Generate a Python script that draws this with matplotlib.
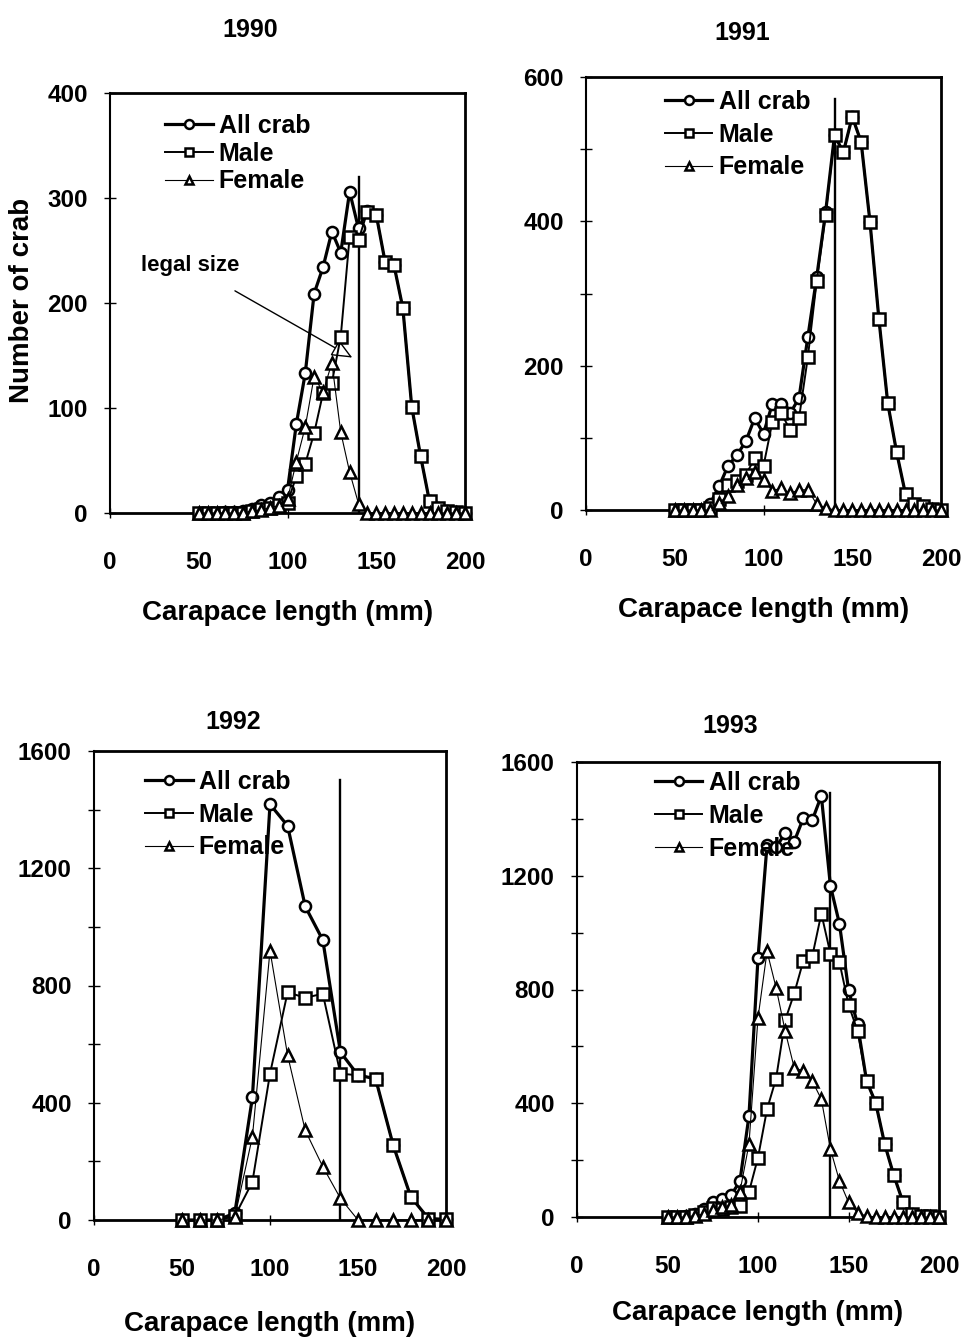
import matplotlib
matplotlib.use("Agg")
import matplotlib.pyplot as plt
from matplotlib.ticker import MultipleLocator

plt.rcParams['font.family'] = ['Liberation Sans', 'DejaVu Sans']
plt.rcParams['font.weight'] = 'bold'
plt.rcParams['axes.labelweight'] = 'bold'

# carapace length classes (mm)
sizes_5mm = list(range(50, 205, 5))
sizes_10mm = list(range(50, 205, 10))

# 1990
all_1990 = [0, 0, 0, 1, 1, 2, 4, 8, 10, 15, 22, 85, 133, 209, 234, 268, 248, 306, 271, 288,
            284, 239, 236, 195, 101, 54, 11, 5, 2, 1, 0]
male_1990 = [0, 0, 0, 0, 0, 0, 2, 4, 5, 8, 10, 35, 47, 76, 114, 124, 168, 263, 260, 287,
             284, 239, 236, 195, 101, 54, 11, 5, 2, 1, 0]
female_1990 = [0, 0, 0, 0, 0, 0, 2, 3, 5, 7, 13, 49, 82, 130, 115, 143, 77, 39, 9, 0,
               0, 0, 0, 0, 0, 0, 0, 0, 0, 0, 0]

# 1991
all_1991 = [0, 0, 0, 0, 9, 33, 61, 76, 95, 127, 106, 147, 147, 134, 155, 240, 323, 413, 519, 496,
            545, 510, 399, 265, 148, 80, 22, 8, 5, 2, 0]
male_1991 = [0, 0, 0, 0, 3, 15, 35, 40, 48, 72, 61, 122, 134, 111, 127, 212, 318, 409, 519, 496,
             545, 510, 399, 265, 148, 80, 22, 8, 5, 2, 0]
female_1991 = [0, 0, 0, 0, 0, 10, 20, 35, 45, 53, 42, 27, 30, 23, 28, 28, 8, 3, 0, 0,
               0, 0, 0, 0, 0, 0, 0, 0, 0, 0, 0]

# 1992 (10 mm classes)
all_1992 = [0, 0, 0, 23, 418, 1418, 1345, 1070, 955, 573, 494, 482, 255, 79, 5, 2]
male_1992 = [0, 0, 0, 13, 130, 499, 777, 758, 772, 499, 494, 482, 255, 79, 5, 2]
female_1992 = [0, 0, 0, 10, 284, 919, 562, 306, 182, 74, 0, 0, 0, 0, 0, 0]

# 1993
all_1993 = [0, 0, 2, 12, 29, 53, 64, 76, 125, 355, 911, 1309, 1300, 1350, 1320, 1402, 1396, 1481,
            1165, 1031, 800, 677, 478, 402, 256, 147, 54, 10, 5, 3, 0]
male_1993 = [0, 0, 0, 7, 19, 30, 29, 35, 37, 88, 209, 379, 487, 692, 786, 900, 917, 1067,
             926, 896, 747, 654, 478, 402, 256, 147, 54, 10, 5, 3, 0]
female_1993 = [0, 0, 0, 5, 10, 23, 35, 41, 88, 256, 700, 934, 806, 654, 525, 513, 478, 414,
               239, 127, 52, 15, 3, 0, 0, 0, 0, 0, 0, 0, 0]

legal_size = 140

W, H = 968, 1337
fig = plt.figure(figsize=(W / 100, H / 100), dpi=100)


def add_ax(left, right, top, bottom):
    return fig.add_axes([left / W, 1 - bottom / H, (right - left) / W, (bottom - top) / H])


panels = [
    # year, x, all, male, female, ymax, major, minor, legal top, axes box px, legend anchor, title px, xlabel y
    ("1990", sizes_5mm, all_1990, male_1990, female_1990, 400, 100, 100, 320,
     (110, 465, 93, 513), (0.155, 0.95), (250, 30), 613),
    ("1991", sizes_5mm, all_1991, male_1991, female_1991, 600, 200, 100, 570,
     (586, 941, 77, 510), (0.222, 0.97), (742, 33), 610),
    ("1992", sizes_10mm, all_1992, male_1992, female_1992, 1600, 400, 200, 1500,
     (94, 446, 751, 1220), (0.145, 0.96), (233, 722), 1324),
    ("1993", sizes_5mm, all_1993, male_1993, female_1993, 1600, 400, 200, 1490,
     (577, 939, 762, 1217), (0.215, 0.98), (730, 726), 1313),
]

mk = dict(markerfacecolor="white", markeredgecolor="black", markersize=8,
          markeredgewidth=1.8, clip_on=False)

for (year, x, a, m, f, ymax, major, minor, ltop, box, leg_xy, title_xy, xlab_y) in panels:
    ax = add_ax(*box)
    ax.plot(x, a, "-", color="black", lw=2.3, marker="o", label="All crab", zorder=3, **mk)
    ax.plot(x, m, "-", color="black", lw=1.4, marker="s", label="Male", zorder=4, **mk)
    ax.plot(x, f, "-", color="black", lw=0.8, marker="^", label="Female", zorder=5, **mk)
    ax.plot([legal_size, legal_size], [0, ltop], color="black", lw=1.7, zorder=2)

    ax.set_xlim(0, 200)
    ax.set_ylim(0, ymax)
    ax.xaxis.set_major_locator(MultipleLocator(50))
    ax.yaxis.set_major_locator(MultipleLocator(major))
    ax.yaxis.set_minor_locator(MultipleLocator(minor))
    ax.tick_params(axis="both", which="both", direction="inout", width=1, color="black")
    ax.tick_params(axis="x", which="major", length=7, pad=24, labelsize=17.5)
    ax.tick_params(axis="y", which="major", length=8, pad=12, labelsize=17.5)
    ax.tick_params(axis="y", which="minor", length=8)
    for side in ["top", "right", "bottom"]:
        ax.spines[side].set_linewidth(2)
    ax.spines["left"].set_linewidth(1.5)

    ax.set_xlabel("Carapace length (mm)", fontsize=20)
    ax.xaxis.label.set_va("center")
    ax.xaxis.set_label_coords(0.5, (box[3] - xlab_y) / (box[3] - box[2]))

    ax.legend(loc="upper left", bbox_to_anchor=leg_xy, frameon=False, fontsize=18,
              borderaxespad=0, borderpad=0, handlelength=1.9, handletextpad=0.25,
              labelspacing=0.15 if year == "1990" else 0.35, markerscale=0.8)

    fig.text(title_xy[0] / W, 1 - title_xy[1] / H, year, fontsize=18, ha="center", va="center")

    if year == "1990":
        ax.set_ylabel("Number of crab", fontsize=20)
        ax.yaxis.label.set_va("center")
        ax.yaxis.set_label_coords((22 - box[0]) / (box[1] - box[0]), 0.507)
        ax.annotate("legal size", xy=(136.5, 148), xytext=(45, 236), fontsize=16,
                    ha="center", va="center",
                    arrowprops=dict(arrowstyle="-|>,head_length=0.8,head_width=0.35",
                                    fc="white", ec="black", lw=1, shrinkA=18, shrinkB=0))

fig.savefig("out.png", dpi=100)
